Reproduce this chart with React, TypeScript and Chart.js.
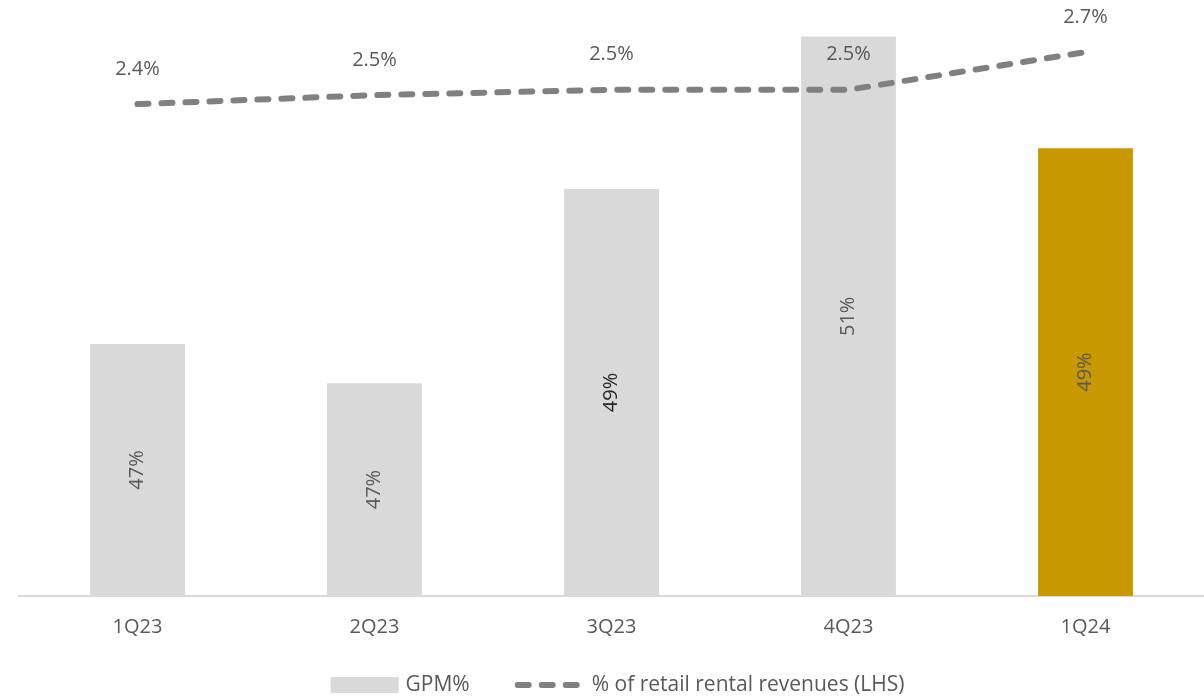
import React, { useEffect, useRef } from "react";
import { Chart, registerables } from "chart.js";

Chart.register(...registerables);

const categories = ["1Q23", "2Q23", "3Q23", "4Q23", "1Q24"];
const gpmValues = [47.06, 46.6, 48.88, 50.67, 49.36];
const rentalShareValues = [2.42, 2.47, 2.5, 2.5, 2.71];
const legendLabels = ["GPM%", "% of retail rental revenues (LHS)"];

const barColors = ["#d9d9d9", "#d9d9d9", "#d9d9d9", "#d9d9d9", "#c89800"];
const barLabelColors = ["#595959", "#595959", "#262626", "#595959", "#595959"];
const LINE_COLOR = "#808080";
const BAR_GREY = "#d9d9d9";
const FONT = "'Open Sans', 'Noto Sans', sans-serif";
const TEXT = "#595959";

const labelPlugin = {
  id: "valueLabels",
  afterDatasetsDraw(chart: any) {
    const ctx = chart.ctx;
    const bottom = chart.chartArea.bottom;
    const barMeta = chart.getDatasetMeta(0);
    barMeta.data.forEach((el: any, i: number) => {
      const { x, y } = el.getProps(["x", "y"], true);
      ctx.save();
      ctx.translate(x, (y + bottom) / 2);
      ctx.rotate(-Math.PI / 2);
      ctx.font = `20px ${FONT}`;
      ctx.textAlign = "center";
      ctx.textBaseline = "middle";
      ctx.fillStyle = barLabelColors[i];
      ctx.fillText(Math.round(gpmValues[i]) + "%", 0, 0);
      ctx.restore();
    });
    const lineMeta = chart.getDatasetMeta(1);
    lineMeta.data.forEach((el: any, i: number) => {
      const { x, y } = el.getProps(["x", "y"], true);
      ctx.save();
      ctx.font = `20px ${FONT}`;
      ctx.textAlign = "center";
      ctx.textBaseline = "middle";
      ctx.fillStyle = TEXT;
      ctx.fillText(rentalShareValues[i].toFixed(1) + "%", x, y - 35);
      ctx.restore();
    });
  },
};

const legendPlugin = {
  id: "customLegend",
  afterDraw(chart: any) {
    const ctx = chart.ctx;
    ctx.save();
    ctx.font = `21px ${FONT}`;
    const w1 = ctx.measureText(legendLabels[0]).width;
    const w2 = ctx.measureText(legendLabels[1]).width;
    const total = 75 + w1 + 48 + 74 + w2;
    const x0 = chart.width / 2 + 15.5 - total / 2;
    const yc = 685;
    ctx.fillStyle = BAR_GREY;
    ctx.fillRect(x0, yc - 8, 68, 16);
    ctx.fillStyle = TEXT;
    ctx.textAlign = "left";
    ctx.textBaseline = "middle";
    ctx.fillText(legendLabels[0], x0 + 75, yc);
    const lx = x0 + 75 + w1 + 48;
    ctx.strokeStyle = LINE_COLOR;
    ctx.lineWidth = 6;
    ctx.lineCap = "round";
    ctx.setLineDash([11, 13]);
    ctx.beginPath();
    ctx.moveTo(lx, yc);
    ctx.lineTo(lx + 59, yc);
    ctx.stroke();
    ctx.setLineDash([]);
    ctx.fillText(legendLabels[1], lx + 74, yc);
    ctx.restore();
  },
};

export default function App() {
  const ref = useRef<HTMLCanvasElement | null>(null);

  useEffect(() => {
    if (!ref.current) return;
    const chart = new Chart(ref.current, {
      type: "bar",
      data: {
        labels: categories,
        datasets: [
          {
            type: "bar",
            label: legendLabels[0],
            data: gpmValues,
            backgroundColor: barColors,
            barPercentage: 0.4,
            categoryPercentage: 1,
            yAxisID: "yBar",
            order: 1,
          },
          {
            type: "line",
            label: legendLabels[1],
            data: rentalShareValues,
            borderColor: LINE_COLOR,
            borderWidth: 6,
            borderDash: [11, 13],
            borderCapStyle: "round",
            pointRadius: 0,
            fill: false,
            tension: 0,
            yAxisID: "yLine",
            order: 0,
          } as any,
        ],
      },
      options: {
        animation: false,
        responsive: true,
        maintainAspectRatio: false,
        layout: { padding: { left: 19, right: 0, top: 0, bottom: 48 } },
        plugins: {
          tooltip: { enabled: false },
          legend: { display: false },
        },
        scales: {
          x: {
            grid: { display: false },
            border: { display: true, color: "#d9d9d9", width: 2 },
            ticks: { color: TEXT, font: { size: 20, family: FONT }, padding: 11 },
          },
          yBar: {
            display: false,
            beginAtZero: false,
            min: 44.1,
            max: 51.1,
          },
          yLine: {
            display: false,
            min: -0.32,
            max: 3.0,
          },
        },
      },
      plugins: [labelPlugin, legendPlugin],
    });
    return () => chart.destroy();
  }, []);

  return (
    <div style={{ position: "fixed", left: 0, top: 0, width: 1204, height: 698 }}>
      <canvas ref={ref} />
    </div>
  );
}
